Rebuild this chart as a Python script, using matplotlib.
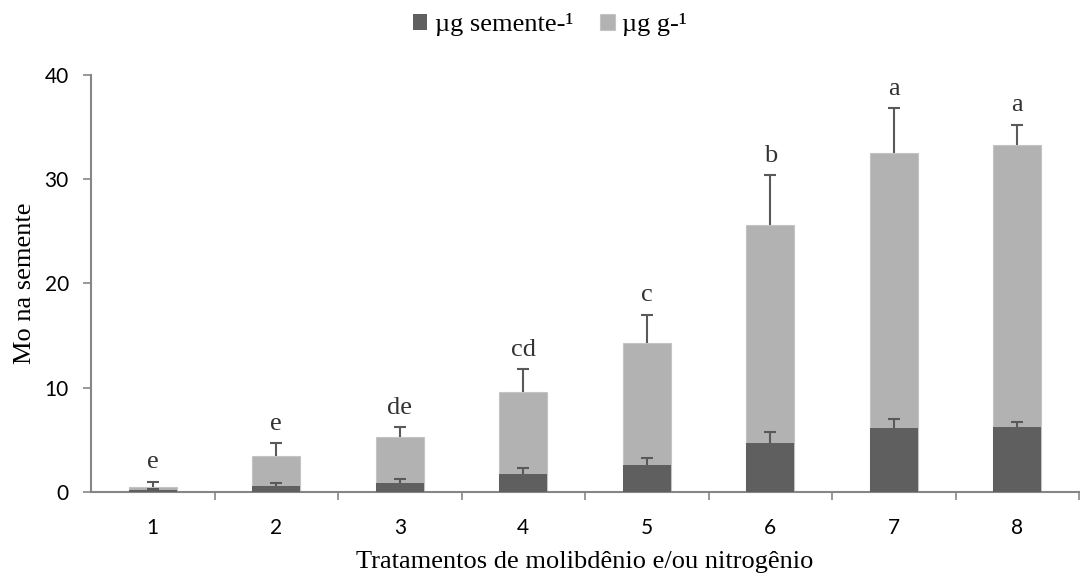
import matplotlib
matplotlib.use("Agg")
import matplotlib.pyplot as plt
import numpy as np

categories = ["1", "2", "3", "4", "5", "6", "7", "8"]
ug_g = [0.5, 3.45, 5.3, 9.6, 14.3, 25.6, 32.5, 33.3]
ug_g_err = [0.5, 1.25, 0.95, 2.2, 2.7, 4.8, 4.3, 1.95]
ug_sem = [0.2, 0.6, 0.9, 1.7, 2.6, 4.7, 6.1, 6.2]
ug_sem_err = [0.1, 0.3, 0.3, 0.6, 0.65, 1.1, 0.95, 0.55]
letters = ["e", "e", "de", "cd", "c", "b", "a", "a"]

serif = ["Liberation Serif", "DejaVu Serif"]
sans = ["Lato", "DejaVu Sans"]

fig = plt.figure(figsize=(10.8, 5.74), dpi=100)
ax = fig.add_axes([91/1080, (574-492)/574, (1079-91)/1080, (492-75)/574])

x = np.arange(1, len(categories) + 1)
w = 0.39
cap = 0.05
dark = "#5f5f5f"
light = "#b2b2b2"
ecol = "#595959"

ax.bar(x, ug_g, w, color=light, edgecolor="#c4c4c4", linewidth=0.8, label="µg g-¹", zorder=2)
top_g = np.array(ug_g) + np.array(ug_g_err)
ax.vlines(x, ug_g, top_g, color=ecol, linewidth=1.5, zorder=3)
ax.hlines(top_g, x - cap, x + cap, color=ecol, linewidth=1.5, zorder=3)

ax.bar(x, ug_sem, w, color=dark, label="µg semente-¹", zorder=4)
top_s = np.array(ug_sem) + np.array(ug_sem_err)
ax.vlines(x, ug_sem, top_s, color=ecol, linewidth=1.5, zorder=5)
ax.hlines(top_s, x - cap, x + cap, color=ecol, linewidth=1.5, zorder=5)

for xi, t_top, t in zip(x, top_g, letters):
    ax.annotate(t, (xi, t_top), xytext=(0, 6), textcoords="offset points",
                ha="center", va="bottom", fontsize=19, family=serif, color="#333333")

ax.set_xlim(0.5, 8.5)
ax.set_ylim(0, 40)
ax.set_yticks([0, 10, 20, 30, 40])
ax.set_xticks(x)
ax.set_xticklabels(categories)
ax.set_xticks(np.arange(1.5, 8.6, 1), minor=True)
ax.tick_params(axis="x", which="major", length=0, pad=19, labelsize=15)
ax.tick_params(axis="x", which="minor", length=6, width=1.2, color="#868686", direction="out")
ax.tick_params(axis="y", length=6, width=1.2, color="#868686", labelsize=15, pad=10)
for lab in ax.get_xticklabels() + ax.get_yticklabels():
    lab.set_family(sans)

for s in ["top", "right"]:
    ax.spines[s].set_visible(False)
for s in ["left", "bottom"]:
    ax.spines[s].set_color("#868686")
    ax.spines[s].set_linewidth(1.5)

ax.set_ylabel("Mo na semente", fontsize=19, family=serif, labelpad=6)
ax.set_xlabel("Tratamentos de molibdênio e/ou nitrogênio", fontsize=19, family=serif, labelpad=9)

h, l = ax.get_legend_handles_labels()
fig.legend([h[1], h[0]], [l[1], l[0]], loc="center", bbox_to_anchor=(550/1080, 1 - 25/574),
           ncol=2, frameon=False, prop={"family": serif, "size": 19},
           handlelength=0.55, handleheight=0.55, handletextpad=0.3, columnspacing=1.0)

fig.savefig("out.png", dpi=100)
